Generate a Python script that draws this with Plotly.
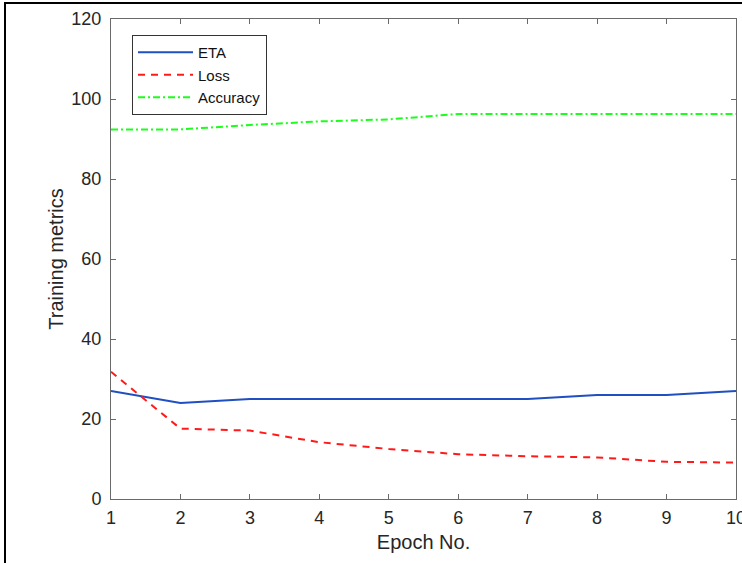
import plotly.graph_objects as go

epochs = [1, 2, 3, 4, 5, 6, 7, 8, 9, 10]
eta = [27, 24, 25, 25, 25, 25, 25, 26, 26, 27]
loss = [31.8, 17.6, 17.1, 14.2, 12.5, 11.2, 10.7, 10.4, 9.3, 9.1]
accuracy = [92.4, 92.4, 93.5, 94.4, 94.9, 96.25, 96.25, 96.25, 96.25, 96.25]

x_ticks = list(range(1, 11))
y_ticks = [0, 20, 40, 60, 80, 100, 120]

FONT = "Liberation Sans, Arial"

fig = go.Figure()
fig.add_trace(go.Scatter(x=epochs, y=eta, mode="lines", name="ETA",
                         line=dict(color="#1f4fc0", width=2)))
fig.add_trace(go.Scatter(x=epochs, y=loss, mode="lines", name="Loss",
                         line=dict(color="#ff1a1a", width=2, dash="7px,6px")))
fig.add_trace(go.Scatter(x=epochs, y=accuracy, mode="lines", name="Accuracy",
                         line=dict(color="#1aff1a", width=2, dash="7px,3px,2px,3px")))

axis_common = dict(showline=True, mirror="ticks", linecolor="#6a6a6a", linewidth=1,
                   ticks="inside", ticklen=5, tickcolor="#6a6a6a",
                   showgrid=False, zeroline=False, ticklabeloverflow="allow",
                   automargin=False,
                   tickfont=dict(family=FONT, size=18, color="#262626"))

fig.update_xaxes(range=[1, 10], tickvals=x_ticks, ticklabelstandoff=2,
                 title=dict(text="Epoch No.", font=dict(family=FONT, size=20, color="#262626"),
                            standoff=8),
                 **axis_common)
fig.update_yaxes(range=[0, 120], tickvals=y_ticks, ticklabelstandoff=5,
                 title=dict(text="Training metrics", font=dict(family=FONT, size=20, color="#262626"),
                            standoff=2),
                 **axis_common)

fig.add_shape(type="rect", xref="paper", yref="paper",
              x0=-0.1696, x1=1.3, y0=-0.3, y1=1.0333,
              line=dict(color="black", width=2), layer="below")

fig.update_layout(
    width=742, height=563,
    margin=dict(l=111, r=6, t=19, b=64),
    plot_bgcolor="white", paper_bgcolor="white",
    legend=dict(x=0.0336, y=0.9665, xanchor="left", yanchor="top",
                bordercolor="#333", borderwidth=1, bgcolor="white",
                font=dict(family=FONT, size=15, color="#111"),
                itemwidth=55, tracegroupgap=0),
    showlegend=True,
)

fig.write_html("out.html", config={"displayModeBar": False},
               post_script="document.body.style.margin='0px';")
